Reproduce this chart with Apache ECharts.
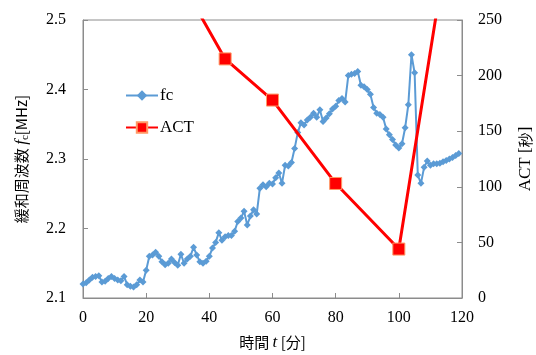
<!DOCTYPE html>
<html>
<head>
<meta charset="utf-8">
<script src="https://cdn.jsdelivr.net/npm/echarts@6/dist/echarts.min.js"></script>
<style>
  html, body { margin: 0; padding: 0; background: #fff; }
  #chart { width: 536px; height: 355px; }
</style>
</head>
<body>
<div id="chart"></div>
<script>
// time [min] for fc readings
const fcTime = [];
for (let i = 0; i < 120; i++) fcTime.push(i);
// relaxation frequency fc [MHz]
const fcValues = [
  2.120, 2.122, 2.126, 2.130, 2.131, 2.132, 2.123, 2.124, 2.128, 2.131,
  2.128, 2.126, 2.125, 2.131, 2.119, 2.117, 2.116, 2.119, 2.126, 2.123,
  2.140, 2.160, 2.162, 2.166, 2.160, 2.152, 2.148, 2.150, 2.156, 2.151,
  2.147, 2.163, 2.150, 2.156, 2.160, 2.173, 2.162, 2.152, 2.150, 2.153,
  2.160, 2.172, 2.180, 2.194, 2.183, 2.188, 2.190, 2.190, 2.196, 2.210,
  2.215, 2.225, 2.205, 2.218, 2.227, 2.221, 2.258, 2.263, 2.260, 2.265,
  2.264, 2.273, 2.280, 2.265, 2.291, 2.290, 2.295, 2.315, 2.338, 2.352,
  2.349, 2.356, 2.360, 2.366, 2.360, 2.371, 2.354, 2.359, 2.365, 2.372,
  2.376, 2.384, 2.387, 2.382, 2.420, 2.422, 2.423, 2.426, 2.406, 2.404,
  2.400, 2.393, 2.374, 2.366, 2.364, 2.360, 2.343, 2.335, 2.328, 2.320,
  2.316, 2.322, 2.345, 2.378, 2.450, 2.424, 2.277, 2.265, 2.288, 2.297,
  2.291, 2.293, 2.293, 2.294, 2.296, 2.298, 2.300, 2.302, 2.305, 2.308
];
// ACT [s]
const actTime = [30, 45, 60, 80, 100, 120];
const actValues = [290, 215, 178, 103, 44, 400];

const xTicks = [0, 20, 40, 60, 80, 100, 120];
const leftTicks = [2.1, 2.2, 2.3, 2.4, 2.5];
const rightTicks = [0, 50, 100, 150, 200, 250];

const serif = 'Liberation Serif';
const axisGray = '#8c8c8c';

const chart = echarts.init(document.getElementById('chart'), null, { renderer: 'canvas' });

const option = {
  animation: false,
  textStyle: { fontFamily: serif },
  grid: {
    left: 83, right: 74, top: 20, bottom: 57,
    outerBoundsMode: 'none',
    show: true, borderColor: axisGray, borderWidth: 1
  },
  legend: {
    left: 125, top: 87, orient: 'vertical',
    itemWidth: 32, itemHeight: 13, itemGap: 15, padding: 0,
    textStyle: { fontFamily: serif, fontSize: 17, color: '#000', padding: [0, 0, 0, -3] },
    data: ['fc', 'ACT']
  },
  xAxis: {
    type: 'value',
    min: xTicks[0], max: xTicks[xTicks.length - 1], interval: 20,
    name: '{j|時間 }{i|t}{j| [分]}',
    nameLocation: 'middle', nameGap: 36,
    nameTextStyle: {
      rich: {
        j: { fontFamily: 'Noto Sans CJK JP', fontSize: 15, color: '#000' },
        i: { fontFamily: serif, fontStyle: 'italic', fontSize: 17, color: '#000' }
      }
    },
    axisLine: { lineStyle: { color: axisGray } },
    axisTick: { inside: true, length: 5, lineStyle: { color: axisGray } },
    axisLabel: { fontSize: 16, color: '#000', margin: 12 },
    splitLine: { show: false }
  },
  yAxis: [
    {
      type: 'value',
      min: leftTicks[0], max: leftTicks[leftTicks.length - 1], interval: 0.1,
      name: '{j|緩和周波数 }{i|f}{s|c}{j|[MHz]}',
      nameLocation: 'middle', nameGap: 52, nameRotate: 90,
      nameTextStyle: {
        rich: {
          j: { fontFamily: 'Noto Sans CJK JP', fontSize: 15, color: '#000' },
          i: { fontFamily: serif, fontStyle: 'italic', fontSize: 17, color: '#000' },
          s: { fontFamily: serif, fontSize: 11, color: '#000', verticalAlign: 'bottom', padding: [8, 0, 0, 0] }
        }
      },
      axisLine: { show: true, lineStyle: { color: axisGray } },
      axisTick: { show: true, inside: true, length: 5, lineStyle: { color: axisGray } },
      axisLabel: { fontSize: 16, color: '#000', margin: 17, formatter: v => v.toFixed(1) },
      splitLine: { show: false }
    },
    {
      type: 'value',
      min: rightTicks[0], max: rightTicks[rightTicks.length - 1], interval: 50,
      name: '{a|ACT [}{j|秒}{a|]}',
      nameLocation: 'middle', nameGap: 55, nameRotate: 90,
      nameTextStyle: {
        rich: {
          a: { fontFamily: serif, fontSize: 17, color: '#000' },
          j: { fontFamily: 'Noto Sans CJK JP', fontSize: 15, color: '#000' }
        }
      },
      axisLine: { show: true, lineStyle: { color: axisGray } },
      axisTick: { show: true, inside: true, length: 5, lineStyle: { color: axisGray } },
      axisLabel: { fontSize: 16, color: '#000', margin: 16 },
      splitLine: { show: false }
    }
  ],
  series: [
    {
      name: 'fc',
      type: 'line',
      yAxisIndex: 0,
      data: fcTime.map((t, i) => [t, fcValues[i]]),
      symbol: 'diamond', symbolSize: 7, showAllSymbol: true,
      lineStyle: { color: '#5B9BD5', width: 2 },
      itemStyle: { color: '#5B9BD5' },
      z: 2
    },
    {
      name: 'ACT',
      type: 'line',
      yAxisIndex: 1,
      data: actTime.map((t, i) => [t, actValues[i]]),
      symbol: 'rect', symbolSize: 12,
      lineStyle: { color: '#FF0000', width: 3 },
      itemStyle: { color: '#FF0000', borderColor: '#FF9966', borderWidth: 1 },
      clip: true,
      z: 3
    }
  ]
};

chart.setOption(option);
window.addEventListener('resize', () => chart.resize());
</script>
</body>
</html>
